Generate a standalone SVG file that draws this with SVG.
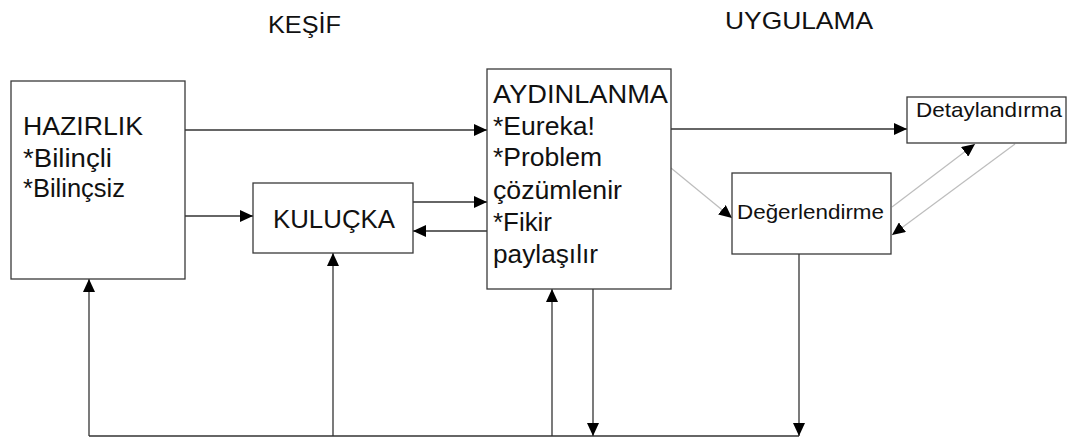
<svg xmlns="http://www.w3.org/2000/svg" width="1068" height="441" viewBox="0 0 1068 441">
  <style>
    .box { fill: #ffffff; stroke: #3a3a3a; stroke-width: 1.3; }
    .ln { fill: none; stroke: #333333; stroke-width: 1.3; }
    .lg { fill: none; stroke: #bdbdbd; stroke-width: 1.2; }
    .t { font-family: "Liberation Sans", Arial, sans-serif; fill: #111111; }
    .big { font-size: 26px; }
    .head { font-size: 24px; }
    .small { font-size: 21px; }
  </style>
  <defs>
    <marker id="ah" viewBox="0 0 13 12" refX="13" refY="6" markerWidth="13" markerHeight="12" markerUnits="userSpaceOnUse" orient="auto">
      <path d="M0,0 L13,6 L0,12 z" fill="#000000"/>
    </marker>
  </defs>

  <!-- phase headings -->
  <text class="t head" x="268" y="33" textLength="73" lengthAdjust="spacingAndGlyphs">KEŞİF</text>
  <text class="t head" x="725" y="29" textLength="148" lengthAdjust="spacingAndGlyphs">UYGULAMA</text>

  <!-- connectors -->
  <g id="connectors">
    <!-- HAZIRLIK -> AYDINLANMA -->
    <line class="ln" x1="185" y1="130" x2="487" y2="130" marker-end="url(#ah)"/>
    <!-- HAZIRLIK -> KULUÇKA -->
    <line class="ln" x1="185" y1="216" x2="253" y2="216" marker-end="url(#ah)"/>
    <!-- KULUÇKA <-> AYDINLANMA -->
    <line class="ln" x1="413" y1="202" x2="487" y2="202" marker-end="url(#ah)"/>
    <line class="ln" x1="487" y1="231" x2="413" y2="231" marker-end="url(#ah)"/>
    <!-- AYDINLANMA -> Detaylandırma -->
    <line class="ln" x1="671" y1="129" x2="907" y2="129" marker-end="url(#ah)"/>
    <!-- AYDINLANMA -> Değerlendirme -->
    <line class="lg" x1="671" y1="168" x2="732" y2="218" marker-end="url(#ah)"/>
    <!-- Değerlendirme <-> Detaylandırma -->
    <line class="lg" x1="892" y1="207" x2="975" y2="144" marker-end="url(#ah)"/>
    <line class="lg" x1="1015" y1="144" x2="892" y2="235" marker-end="url(#ah)"/>
    <!-- feedback bus along the bottom -->
    <line class="ln" x1="89" y1="436" x2="799" y2="436"/>
    <line class="ln" x1="89" y1="436" x2="89" y2="279" marker-end="url(#ah)"/>
    <line class="ln" x1="333" y1="436" x2="333" y2="253" marker-end="url(#ah)"/>
    <line class="ln" x1="552" y1="436" x2="552" y2="289" marker-end="url(#ah)"/>
    <line class="ln" x1="593" y1="289" x2="593" y2="436" marker-end="url(#ah)"/>
    <line class="ln" x1="799" y1="254" x2="799" y2="436" marker-end="url(#ah)"/>
  </g>

  <g id="hazirlik">
    <rect class="box" x="11" y="81" width="174" height="198"/>
    <text class="t big" x="23" y="135" textLength="120" lengthAdjust="spacingAndGlyphs">HAZIRLIK</text>
    <text class="t big" x="23" y="167" textLength="89" lengthAdjust="spacingAndGlyphs">*Bilinçli</text>
    <text class="t big" x="23" y="197" textLength="102" lengthAdjust="spacingAndGlyphs">*Bilinçsiz</text>
  </g>

  <g id="kulucka">
    <rect class="box" x="253" y="183" width="160" height="70"/>
    <text class="t big" x="273" y="228" textLength="122" lengthAdjust="spacingAndGlyphs">KULUÇKA</text>
  </g>

  <g id="aydinlanma">
    <rect class="box" x="487" y="69" width="184" height="220"/>
    <text class="t big" x="493" y="103" textLength="175" lengthAdjust="spacingAndGlyphs">AYDINLANMA</text>
    <text class="t big" x="493" y="135" textLength="102" lengthAdjust="spacingAndGlyphs">*Eureka!</text>
    <text class="t big" x="493" y="166" textLength="109" lengthAdjust="spacingAndGlyphs">*Problem</text>
    <text class="t big" x="493" y="199" textLength="129" lengthAdjust="spacingAndGlyphs">çözümlenir</text>
    <text class="t big" x="493" y="231" textLength="59" lengthAdjust="spacingAndGlyphs">*Fikir</text>
    <text class="t big" x="493" y="263" textLength="105" lengthAdjust="spacingAndGlyphs">paylaşılır</text>
  </g>

  <g id="detaylandirma">
    <rect class="box" x="907" y="97" width="159" height="46"/>
    <text class="t small" x="916" y="117" textLength="146" lengthAdjust="spacingAndGlyphs">Detaylandırma</text>
  </g>

  <g id="degerlendirme">
    <rect class="box" x="732" y="173" width="159" height="81"/>
    <text class="t small" x="737" y="219" textLength="147" lengthAdjust="spacingAndGlyphs">Değerlendirme</text>
  </g>
</svg>
